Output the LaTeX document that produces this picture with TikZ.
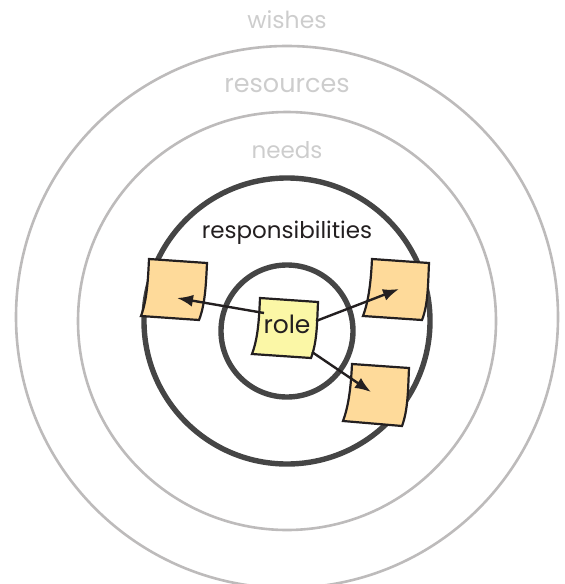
\documentclass[tikz,border=0pt]{standalone}
\usepackage{fontspec}
\setmainfont{Poppins}
\usetikzlibrary{arrows.meta}
\definecolor{ringlight}{HTML}{BDBBBB}
\definecolor{ringdark}{HTML}{454545}
\definecolor{textlight}{HTML}{CDCDCD}
\definecolor{ink}{HTML}{231F20}
\definecolor{noteorange}{HTML}{FEDA9A}
\definecolor{noteyellow}{HTML}{FBF7A6}
\tikzset{
  x=1pt,y=-1pt,
  lightring/.style={draw=ringlight,line width=2.6pt},
  darkring/.style={draw=ringdark,line width=5.4pt},
  sticky/.style={draw=ink,line width=2.2pt,line join=miter},
  lighttext/.style={text=textlight,inner sep=0pt},
  darktext/.style={text=ink,inner sep=0pt},
  flow/.style={draw=ink,line width=2.4pt,-{Latex[length=16pt,width=12pt]}}
}
\begin{document}
\begin{tikzpicture}
\useasboundingbox (0,0) rectangle (565,584);
\begin{scope}
\clip (0,0) rectangle (565,584);
\draw[lightring] (287,317) circle[radius=271];
\draw[lightring] (287,321) circle[radius=209];
\draw[darkring] (287,321) circle[radius=143];
\draw[darkring] (287,331) circle[radius=66];
\end{scope}
\node[lighttext,font=\fontsize{23.5}{25}\selectfont] (wishes) at (287,20) {wishes};
\node[lighttext,font=\fontsize{25.5}{27}\selectfont] (resources) at (287,85) {resources};
\node[lighttext,font=\fontsize{23}{25}\selectfont] (needs) at (287,150) {needs};
\node[darktext,font=\fontsize{23}{25}\selectfont] (resp) at (287,233) {responsibilities};
\draw[sticky,fill=noteorange] (149,259) -- (207,263) .. controls (206,285) and (205,305) .. (199,320) -- (141,316) .. controls (147,300) and (148,280) .. (149,259) -- cycle;
\draw[sticky,fill=noteorange] (372,259) -- (429,263) .. controls (428,285) and (428,305) .. (422,320) -- (363,316) .. controls (369,300) and (371,280) .. (372,259) -- cycle;
\draw[sticky,fill=noteorange] (352,364) -- (409,368) .. controls (408,390) and (408,410) .. (402,426) -- (343,421) .. controls (349,405) and (351,385) .. (352,364) -- cycle;
\draw[sticky,fill=noteyellow] (260,298) -- (318,302) .. controls (317,325) and (317,342) .. (311,358) -- (252,354) .. controls (258,338) and (259,320) .. (260,298) -- cycle;
\node[darktext,font=\fontsize{25}{27}\selectfont] (role) at (287,324) {role};
\coordinate (leftout) at (264,313);
\coordinate (rightout) at (316,321);
\coordinate (lowerout) at (312,352);
\coordinate (leftnote) at (177,298);
\coordinate (rightnote) at (399,289);
\coordinate (lowernote) at (371,392);
\draw[flow] (leftout) -- (leftnote);
\draw[flow] (rightout) -- (rightnote);
\draw[flow] (lowerout) -- (lowernote);
\end{tikzpicture}
\end{document}
